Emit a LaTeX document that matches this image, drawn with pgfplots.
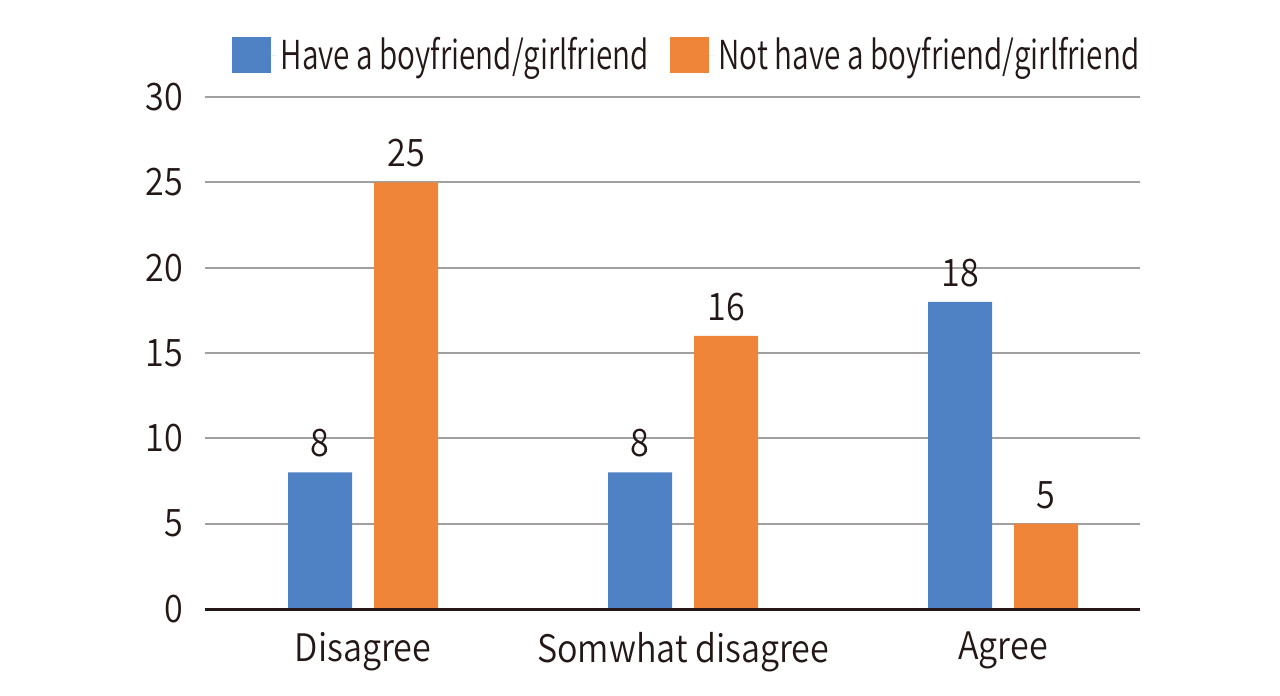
\documentclass[border=0pt]{standalone}
\usepackage{fontspec}
\setmainfont{Noto Sans CJK JP}
\newfontfamily\tickfont[FakeStretch=0.9]{Noto Sans CJK JP DemiLight}
\newfontfamily\legfont[FakeStretch=0.745]{Noto Sans CJK JP DemiLight}
\usepackage{pgfplots}
\pgfplotsset{compat=1.18}
\definecolor{barblue}{HTML}{4F82C4}
\definecolor{barorange}{HTML}{EE8538}
\definecolor{inkdark}{HTML}{231815}
\definecolor{gridgray}{HTML}{A0A0A0}

\begin{document}
\begin{tikzpicture}
% page = 1280x696 px at 0.5bp per px, axis box 205..1140 x 97..609
\useasboundingbox (-102.5bp,-43.5bp) rectangle (537.5bp,304.5bp);
\begin{axis}[
    at={(0,0)}, anchor=south west,
    scale only axis,
    width=467.5bp, height=256bp,
    ybar, bar width=32bp,
    xmin=-0.494, xmax=2.428,
    ymin=0, ymax=30,
    ytick={0,5,...,30},
    xtick={0,1,2},
    xticklabels={Disagree,Somwhat disagree,Agree},
    major tick length=0pt,
    axis line style={draw=none},
    ymajorgrids,
    grid style={gridgray, line width=1bp},
    tick label style={font=\tickfont\fontsize{19}{22}\selectfont, text=inkdark},
    /pgf/number format/assume math mode=true,
    yticklabel style={xshift=-7.5bp},
    xticklabel style={yshift=-8bp},
    nodes near coords,
    nodes near coords style={font=\tickfont\fontsize{19}{22}\selectfont, text=inkdark, yshift=4bp},
    legend style={
        at={(0.515,1)}, anchor=center, xshift=0.5bp, yshift=21bp,
        draw=none, fill=none,
        legend columns=2,
        font=\legfont\fontsize{20}{24}\selectfont,
        text=inkdark,
        /tikz/every even column/.append style={column sep=8.5bp},
    },
    legend image code/.code={\fill[#1] (0bp,-9bp) rectangle (19.5bp,9bp);
        \path (0bp,0bp) -- (22.5bp,0bp);},
    clip=false,
]
\addplot[fill=barblue, draw=none, bar shift=-21.5bp] coordinates {(0,8) (1,8) (2,18)};
\addlegendentry{Have a boyfriend/girlfriend}
\addplot[fill=barorange, draw=none, bar shift=21.5bp] coordinates {(0,25) (1,16) (2,5)};
\addlegendentry{Not have a boyfriend/girlfriend}
\draw[inkdark, line width=1.5bp] (rel axis cs:0,0) -- (rel axis cs:1,0);
\end{axis}
\end{tikzpicture}
\end{document}
